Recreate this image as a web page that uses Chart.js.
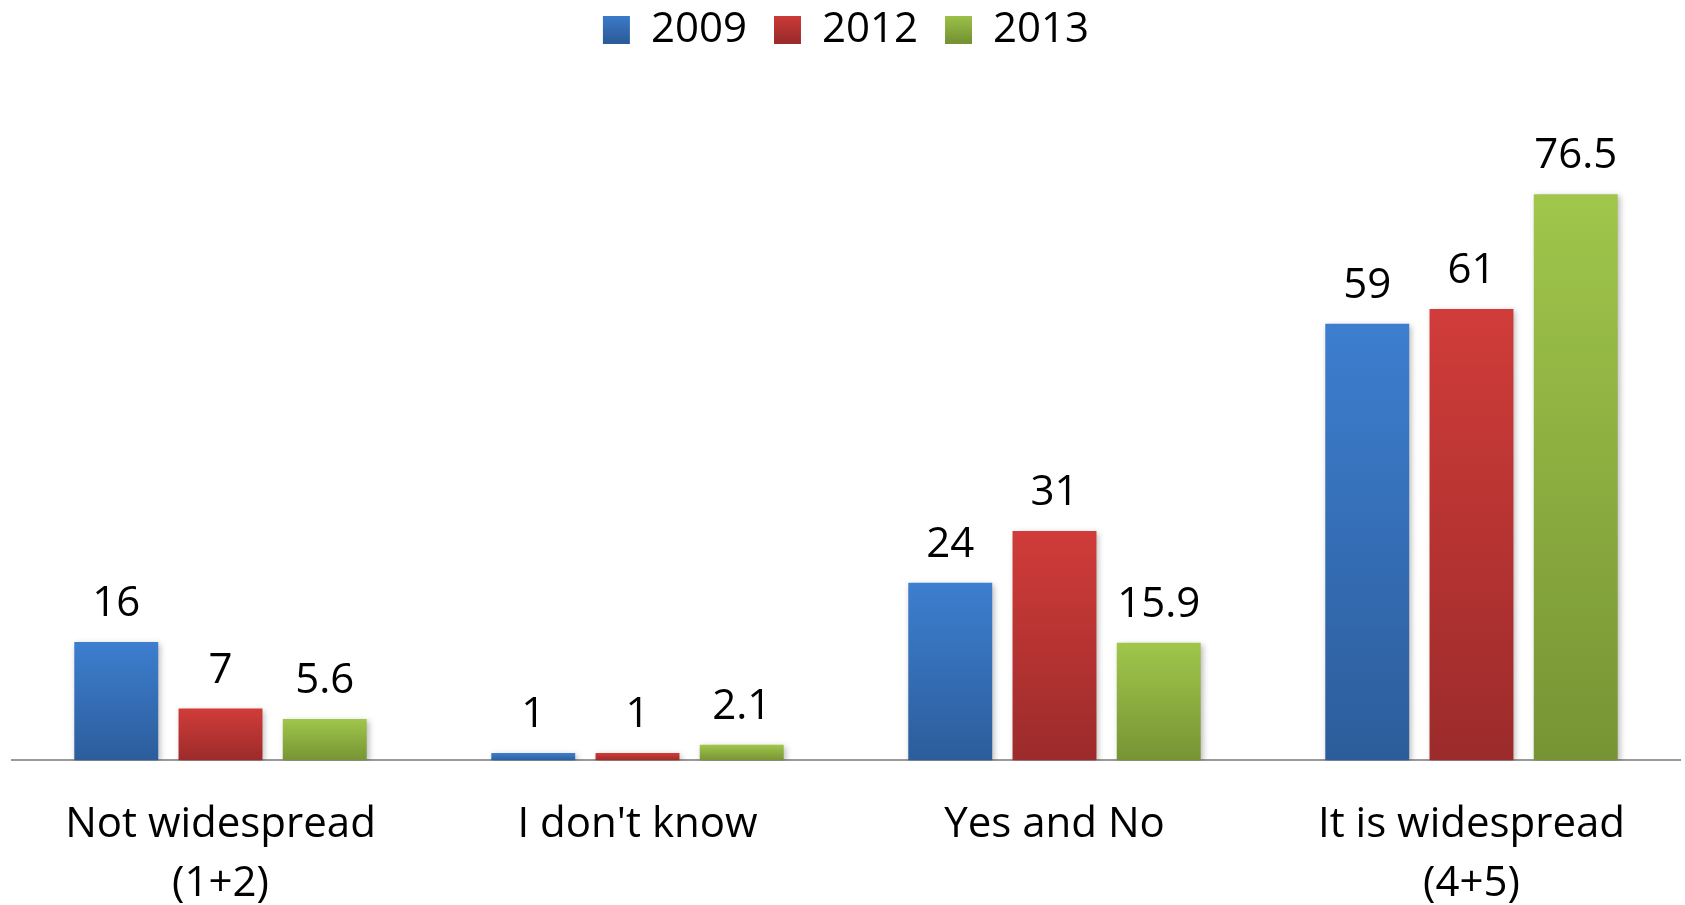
<!DOCTYPE html>
<html>
<head>
<meta charset="utf-8">
<script src="https://cdn.jsdelivr.net/npm/chart.js@4.4.1/dist/chart.umd.min.js"></script>
<style>
    html, body { margin: 0; padding: 0; background: #fff; }
    #wrap { width: 1685px; height: 905px; }
</style>
</head>
<body>
<div id="wrap"><canvas id="chart"></canvas></div>
<script>
// Data
const categories = [['Not widespread', '(1+2)'], "I don't know", 'Yes and No', ['It is widespread', '(4+5)']];
const years = ['2009', '2012', '2013'];
const values2009 = [16, 1, 24, 59];
const values2012 = [7, 1, 31, 61];
const values2013 = [5.6, 2.1, 15.9, 76.5];

// top / bottom colours of each bar gradient
const barColors = [
    { top: '#3d7ecf', bottom: '#2c5d9b' },
    { top: '#d03c39', bottom: '#9c2b2b' },
    { top: '#a0c64b', bottom: '#779434' }
];

const FONT = "'Open Sans', sans-serif";
const FONT_SIZE = 42;

function barGradient(ctx) {
    const chart = ctx.chart;
    const c = barColors[ctx.datasetIndex];
    if (!chart.chartArea || ctx.type !== 'data') return c.top;
    const y = chart.scales.y;
    const top = y.getPixelForValue(ctx.raw);
    const bottom = y.getPixelForValue(0);
    if (!isFinite(top) || bottom - top < 1) return c.bottom;
    const g = chart.ctx.createLinearGradient(0, top, 0, bottom);
    g.addColorStop(0, c.top);
    g.addColorStop(1, c.bottom);
    return g;
}

// soft shadow under the bars
const barShadow = {
    id: 'barShadow',
    beforeDatasetDraw(chart) {
        const ctx = chart.ctx;
        ctx.save();
        ctx.shadowColor = 'rgba(0, 0, 0, 0.28)';
        ctx.shadowBlur = 6;
        ctx.shadowOffsetX = 2;
        ctx.shadowOffsetY = 2;
    },
    afterDatasetDraw(chart) {
        chart.ctx.restore();
    }
};

// value labels above the bars
const valueLabels = {
    id: 'valueLabels',
    afterDatasetsDraw(chart) {
        const ctx = chart.ctx;
        ctx.save();
        ctx.font = FONT_SIZE + 'px ' + FONT;
        ctx.fillStyle = '#000';
        ctx.textAlign = 'center';
        ctx.textBaseline = 'alphabetic';
        chart.data.datasets.forEach((ds, i) => {
            chart.getDatasetMeta(i).data.forEach((bar, j) => {
                ctx.fillText(String(ds.data[j]), bar.x, bar.y - 26);
            });
        });
        ctx.restore();
    }
};

const legendBoxes = (chart) => chart.data.datasets.map((ds, i) => {
    const g = chart.ctx.createLinearGradient(0, 13, 0, 41);
    g.addColorStop(0, barColors[i].top);
    g.addColorStop(1, barColors[i].bottom);
    return {
        text: ds.label,
        fillStyle: g,
        strokeStyle: 'rgba(0,0,0,0)',
        lineWidth: 0,
        hidden: false,
        datasetIndex: i,
        fontColor: '#000'
    };
});

new Chart(document.getElementById('chart'), {
    type: 'bar',
    data: {
        labels: categories,
        datasets: [
            { label: years[0], data: values2009, backgroundColor: barGradient },
            { label: years[1], data: values2012, backgroundColor: barGradient },
            { label: years[2], data: values2013, backgroundColor: barGradient }
        ]
    },
    options: {
        responsive: true,
        maintainAspectRatio: false,
        animation: false,
        categoryPercentage: 0.75,
        barPercentage: 0.805,
        layout: { padding: { top: -18, left: 12, right: 5, bottom: -35 } },
        plugins: {
            legend: {
                position: 'top',
                labels: {
                    boxWidth: 27,
                    boxHeight: 28,
                    padding: 27,
                    color: '#000',
                    font: { family: FONT, size: FONT_SIZE },
                    generateLabels: legendBoxes
                }
            },
            tooltip: { enabled: false }
        },
        scales: {
            x: {
                grid: { display: false },
                border: { display: true, color: '#9a9a9a', width: 2 },
                ticks: {
                    color: '#000',
                    padding: 27,
                    maxRotation: 0,
                    font: { family: FONT, size: FONT_SIZE, lineHeight: 1.4 }
                }
            },
            y: {
                display: false,
                min: 0,
                max: 94.5
            }
        }
    },
    plugins: [barShadow, valueLabels]
});
</script>
</body>
</html>
